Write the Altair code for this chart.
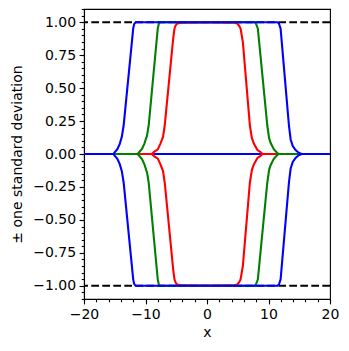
import altair as alt
import pandas as pd

# standard deviation envelopes (upper branch; lower branch is its negative)
x_red = [-20, -8.93, -8.66, -8.0, -7.57, -7.15, -6.87, -5.5, -5.29, -5.1, -4.85, -4.0, 0, 4.3, 4.92, 5.2, 5.46, 5.83, 6.97, 7.3, 7.62, 8.2, 8.71, 9.0, 20]
s_red = [0, 0, 0.015, 0.035, 0.079, 0.13, 0.218, 0.875, 0.951, 0.975, 0.99, 0.997, 0.998, 0.997, 0.99, 0.975, 0.951, 0.85, 0.218, 0.12, 0.079, 0.03, 0.015, 0, 0]

x_green = [-20, -11.3, -11.1, -10.55, -10.18, -9.75, -9.48, -8.01, -7.85, -7.7, 7.78, 8.0, 8.27, 9.8, 10.1, 10.34, 10.88, 11.6, 20]
s_green = [0, 0, 0.01, 0.04, 0.079, 0.14, 0.218, 0.951, 0.985, 1.0, 1.0, 0.985, 0.951, 0.218, 0.12, 0.085, 0.035, 0, 0]

x_blue = [-20, -15.2, -15.05, -14.6, -14.2, -13.85, -13.55, -12.0, -11.85, -11.6, 11.43, 11.7, 11.97, 13.32, 13.6, 13.95, 14.4, 14.9, 15.4, 20]
s_blue = [0, 0, 0.01, 0.035, 0.075, 0.13, 0.218, 0.951, 0.985, 1.0, 1.0, 0.99, 0.951, 0.218, 0.11, 0.06, 0.03, 0.01, 0, 0]

zero_x = [-20, 20]
zero_y = [0, 0]
ref_levels = [1.0, -1.0]

x_major = [-20, -10, 0, 10, 20]
x_minor = [v for v in range(-20, 21, 2)]
y_major = [-1.0, -0.75, -0.5, -0.25, 0.0, 0.25, 0.5, 0.75, 1.0]
y_minor = [round(-1.1 + 0.05 * i, 2) for i in range(45)]

FONT = "DejaVu Sans"
LW = 2.1


def frame(xs, ss, name):
    rows = []
    for x, s in zip(xs, ss):
        rows.append({"x": x, "y": s, "branch": name + "_up"})
        rows.append({"x": x, "y": -s, "branch": name + "_low"})
    return pd.DataFrame(rows)


xs = alt.Scale(domain=[-20, 20], nice=False, zero=False)
ys = alt.Scale(domain=[-1.1, 1.1], nice=False, zero=False)

major_x_axis = alt.Axis(values=x_major, format="d", title="x", tickSize=4.9, labelPadding=3.5,
                        titlePadding=4, grid=False, orient="bottom", labelFlush=False,
                        labelOverlap=False)
major_y_axis = alt.Axis(values=y_major, format=".2f", title="± one standard deviation", tickSize=4.9,
                        labelPadding=3.5, titlePadding=8, grid=False, orient="left",
                        labelFlush=False, labelOverlap=False)
minor_x_axis = alt.Axis(values=x_minor, labels=False, title=None, tickSize=2.8, domain=False,
                        grid=False, orient="bottom")
minor_y_axis = alt.Axis(values=y_minor, labels=False, title=None, tickSize=2.8, domain=False,
                        grid=False, orient="left")

dashed = alt.Chart(pd.DataFrame({"y": ref_levels})).mark_rule(
    color="black", strokeWidth=LW, strokeDash=[7.7, 3.3]
).encode(y=alt.Y("y:Q", scale=ys, axis=None))

zero = alt.Chart(pd.DataFrame({"x": zero_x, "y": zero_y})).mark_line(
    color="#0000ff", strokeWidth=LW
).encode(x=alt.X("x:Q", scale=xs, axis=major_x_axis), y=alt.Y("y:Q", scale=ys, axis=major_y_axis))


def env(xs_, ss_, name, color, xaxis=None, yaxis=None):
    return alt.Chart(frame(xs_, ss_, name)).mark_line(color=color, strokeWidth=LW).encode(
        x=alt.X("x:Q", scale=xs, axis=xaxis),
        y=alt.Y("y:Q", scale=ys, axis=yaxis),
        detail="branch:N",
    )


red = env(x_red, s_red, "red", "#ff0000")
green = env(x_green, s_green, "green", "#008000")
blue = env(x_blue, s_blue, "blue", "#0000ff", minor_x_axis, minor_y_axis)

chart = alt.layer(dashed, zero, red, green, blue).resolve_axis(
    x="independent", y="independent"
).properties(
    width=246, height=290,
    autosize=alt.AutoSizeParams(type="none"),
    padding={"left": 76, "top": 1, "right": 10, "bottom": 45},
).configure_view(stroke="black", strokeWidth=1.1).configure_axis(
    labelFont=FONT, titleFont=FONT, labelFontSize=14, titleFontSize=14,
    labelColor="black", titleColor="black", tickColor="black", domainColor="black",
    tickWidth=1.1, domainWidth=1.1, titleFontWeight="normal"
)

chart.save("out.html", embed_options={"renderer": "svg", "actions": False})
